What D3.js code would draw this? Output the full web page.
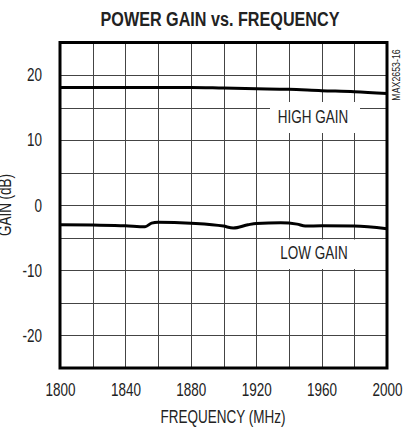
<!DOCTYPE html>
<html><head><meta charset="utf-8">
<script src="https://cdn.jsdelivr.net/npm/d3@7"></script>
<style>
html,body{margin:0;padding:0;background:#fff;}
svg{display:block;}
text{font-family:"Liberation Sans",Arial,sans-serif;fill:#222;}
</style></head>
<body><div id="chart"></div>
<script>
const title = "POWER GAIN vs. FREQUENCY";
const xLabel = "FREQUENCY (MHz)";
const yLabel = "GAIN (dB)";
const note = "MAX2653-16";
const xTicks = [1800, 1840, 1880, 1920, 1960, 2000];
const yTicks = [-20, -10, 0, 10, 20];
const highFreq = [1800, 1840, 1880, 1900, 1920, 1940, 1960, 1980, 2000];
const highGain = [18.1, 18.1, 18.1, 18.0, 17.9, 17.8, 17.6, 17.45, 17.15];
const lowFreq = [1800, 1820, 1840, 1852, 1856, 1860, 1880, 1900, 1906, 1915, 1920, 1935, 1945, 1950, 1960, 1980, 2000];
const lowGain = [-3.0, -3.05, -3.15, -3.3, -2.75, -2.6, -2.75, -3.2, -3.5, -3.0, -2.8, -2.7, -2.9, -3.2, -3.15, -3.2, -3.6];
const seriesLabels = ["HIGH GAIN", "LOW GAIN"];

const W = 403, H = 430;
const L = 60, R = 387, T = 42.5, B = 368;
const SX = 0.75; // horizontal squeeze to imitate a condensed face
const svg = d3.select("#chart").append("svg").attr("width", W).attr("height", H);
const x = d3.scaleLinear().domain([1800, 2000]).range([L, R]);
const y = d3.scaleLinear().domain([-25, 25]).range([B, T]);

// grid
const g = svg.append("g");
g.selectAll("line.v").data(d3.range(1820, 2000, 20)).join("line")
  .attr("x1", d => Math.round(x(d)) + 0.5).attr("x2", d => Math.round(x(d)) + 0.5)
  .attr("y1", T).attr("y2", B).attr("stroke", "#444").attr("stroke-width", 1);
g.selectAll("line.h").data(d3.range(-20, 25, 5)).join("line")
  .attr("y1", d => Math.round(y(d)) + 0.5).attr("y2", d => Math.round(y(d)) + 0.5)
  .attr("x1", L).attr("x2", R).attr("stroke", "#444").attr("stroke-width", 1);

// label boxes
svg.append("rect").attr("x", 270).attr("y", 102).attr("width", 90).attr("height", 31).attr("fill", "#fff");
svg.append("rect").attr("x", 275).attr("y", 239.5).attr("width", 92).attr("height", 29.5).attr("fill", "#fff");

// curves
const line = d3.line().x(d => x(d[0])).y(d => y(d[1])).curve(d3.curveMonotoneX);
svg.append("path").datum(highFreq.map((f, i) => [f, highGain[i]]))
  .attr("d", line).attr("fill", "none").attr("stroke", "#000").attr("stroke-width", 3);
svg.append("path").datum(lowFreq.map((f, i) => [f, lowGain[i]]))
  .attr("d", line).attr("fill", "none").attr("stroke", "#000").attr("stroke-width", 3);

// frame
svg.append("rect").attr("x", L).attr("y", T).attr("width", R - L).attr("height", B - T)
  .attr("fill", "none").attr("stroke", "#000").attr("stroke-width", 3);

// axes (labels only)
const xa = svg.append("g").attr("transform", `translate(0,${B})`)
  .call(d3.axisBottom(x).tickValues(xTicks).tickSize(0).tickPadding(15).tickFormat(d => String(d)));
const ya = svg.append("g").attr("transform", `translate(${L},0)`)
  .call(d3.axisLeft(y).tickValues(yTicks).tickSize(0).tickPadding(18).tickFormat(d => String(d)));
[xa, ya].forEach(a => {
  a.select(".domain").remove();
  a.selectAll("text").attr("font-family", '"Liberation Sans",Arial,sans-serif')
    .attr("font-size", 18).attr("fill", "#222")
    .each(function () {
      const t = d3.select(this);
      const xv = +t.attr("x") || 0;
      t.attr("x", xv / SX).attr("transform", `scale(${SX},1)`);
    });
});

function ntext(px, py, str, size, opts = {}) {
  const t = svg.append("text")
    .attr("transform", `translate(${px},${py})${opts.rot ? " rotate(" + opts.rot + ")" : ""} scale(${opts.sx || SX},1)`)
    .attr("text-anchor", "middle").attr("font-size", size).text(str);
  if (opts.bold) t.attr("font-weight", "bold").attr("fill", "#000");
  return t;
}
ntext(220, 25.5, title, 21, {bold: true, sx: 0.77});
ntext(223, 422.5, xLabel, 18);
ntext(10.5, 205, yLabel, 18, {rot: -90});
ntext(400, 75, note, 11, {rot: -90, sx: 0.8});
ntext(313, 123, seriesLabels[0], 18);
ntext(314, 258.5, seriesLabels[1], 18);
</script></body></html>
